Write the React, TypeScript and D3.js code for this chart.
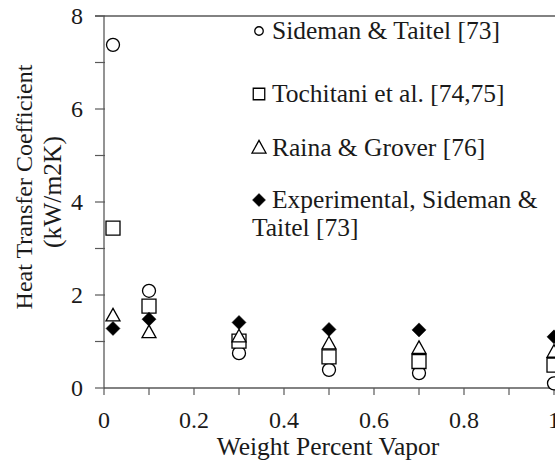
import React from 'react';
import * as d3 from 'd3';

// values
const vaporFraction = [0.02, 0.1, 0.3, 0.5, 0.7, 1.0];
const sidemanTaitel = [7.38, 2.09, 0.75, 0.39, 0.32, 0.1];
const tochitani = [3.44, 1.76, 1.01, 0.67, 0.57, 0.49];
const rainaGrover = [1.55, 1.19, 1.1, 0.95, 0.85, 0.77];
const experimental = [1.28, 1.48, 1.41, 1.26, 1.25, 1.1];

const xTicks = [0, 0.1, 0.2, 0.3, 0.4, 0.5, 0.6, 0.7, 0.8, 0.9, 1];
const xTickLabels = ['0', '', '0.2', '', '0.4', '', '0.6', '', '0.8', '', '1'];
const yTicks = [0, 1, 2, 3, 4, 5, 6, 7, 8];
const yTickLabels = ['0', '', '2', '', '4', '', '6', '', '8'];

const legendLabels = [
  ['Sideman & Taitel [73]'],
  ['Tochitani et al. [74,75]'],
  ['Raina & Grover [76]'],
  ['Experimental, Sideman &', 'Taitel [73]'],
];

const W = 555;
const H = 463;
const FONT = "'Liberation Serif', 'Times New Roman', serif";
const INK = '#1a1a1a';
const AXIS = '#595959';
const tickTxt = { fontFamily: FONT, fontSize: 24 };
const bigTxt = { fontFamily: FONT, fontSize: 25.5 };

type Kind = 'circle' | 'square' | 'triangle' | 'diamond';

const markerPath = (kind: Kind, s: number) => {
  // s = overall width of the marker
  const h = s / 2;
  if (kind === 'square') return `M${-h},${-h}H${h}V${h}H${-h}Z`;
  if (kind === 'diamond') return `M0,${-h}L${h},0L0,${h}L${-h},0Z`;
  if (kind === 'triangle') {
    const th = s * 0.9;
    return `M0,${-th * 0.6}L${h},${th * 0.4}L${-h},${th * 0.4}Z`;
  }
  return d3.arc()({ innerRadius: 0, outerRadius: h, startAngle: 0, endAngle: 2 * Math.PI }) as string;
};

const Marker = ({ kind, x, y, s }: { kind: Kind; x: number; y: number; s: number }) => (
  <path
    d={markerPath(kind, s)}
    transform={`translate(${x},${y})`}
    fill={kind === 'diamond' ? '#000' : '#fff'}
    stroke="#000"
    strokeWidth={kind === 'diamond' ? 0.5 : 1.3}
  />
);

const series: { kind: Kind; values: number[]; size: number; legendSize: number }[] = [
  { kind: 'circle', values: sidemanTaitel, size: 13, legendSize: 8.5 },
  { kind: 'square', values: tochitani, size: 14, legendSize: 11.5 },
  { kind: 'triangle', values: rainaGrover, size: 14, legendSize: 14 },
  { kind: 'diamond', values: experimental, size: 14, legendSize: 13 },
];

const App = () => {
  const left = 104;
  const top = 16;
  const bottom = 388;
  const x = d3.scaleLinear().domain([0, 1]).range([left, 554]);
  const y = d3.scaleLinear().domain([0, 8]).range([bottom, top]);

  const legendX = 272;
  const legendBase = [39, 102, 156, 208];
  const lineGap = 28;

  return (
    <svg
      width={W}
      height={H}
      style={{ position: 'absolute', left: 0, top: 0, background: '#fff' }}
    >
      {/* frame top + axes */}
      <line x1={95} x2={W} y1={top} y2={top} stroke={AXIS} strokeWidth={1.3} />
      <line x1={left} x2={left} y1={top} y2={bottom} stroke={AXIS} strokeWidth={1.3} />
      <line x1={left} x2={W} y1={bottom} y2={bottom} stroke={AXIS} strokeWidth={1.3} />

      {yTicks.map((t, i) => (
        <g key={'y' + t}>
          <line x1={95} x2={left + 1} y1={y(t)} y2={y(t)} stroke={AXIS} strokeWidth={1.2} />
          {yTickLabels[i] && (
            <text x={83} y={y(t)} dy="0.35em" textAnchor="end" style={tickTxt} fill={INK}>
              {yTickLabels[i]}
            </text>
          )}
        </g>
      ))}

      {xTicks.map((t, i) => (
        <g key={'x' + t}>
          <line x1={x(t)} x2={x(t)} y1={bottom} y2={bottom + 7} stroke={AXIS} strokeWidth={1.2} />
          {xTickLabels[i] && (
            <text x={x(t)} y={428} textAnchor="middle" style={tickTxt} fill={INK}>
              {xTickLabels[i]}
            </text>
          )}
        </g>
      ))}

      <text x={328} y={455} textAnchor="middle" style={bigTxt} fill={INK}>
        Weight Percent Vapor
      </text>

      <text transform={`translate(32,187) rotate(-90)`} textAnchor="middle" style={tickTxt} fill={INK}>
        Heat Transfer Coefficient
      </text>
      <text transform={`translate(61,192) rotate(-90)`} textAnchor="middle" style={bigTxt} fill={INK}>
        (kW/m2K)
      </text>

      {/* data */}
      {series.map((s) =>
        s.values.map((v, i) => (
          <Marker key={s.kind + i} kind={s.kind} x={x(vaporFraction[i])} y={y(v)} s={s.size} />
        ))
      )}

      {/* legend */}
      {series.map((s, i) => (
        <g key={'leg' + i}>
          <Marker kind={s.kind} x={legendX - 13} y={legendBase[i] - 8} s={s.legendSize} />
          {legendLabels[i].map((line, j) => (
            <text
              key={j}
              x={j === 0 ? legendX : legendX - 20}
              y={legendBase[i] + j * lineGap}
              style={bigTxt}
              fill={INK}
            >
              {line}
            </text>
          ))}
        </g>
      ))}
    </svg>
  );
};

export default App;
